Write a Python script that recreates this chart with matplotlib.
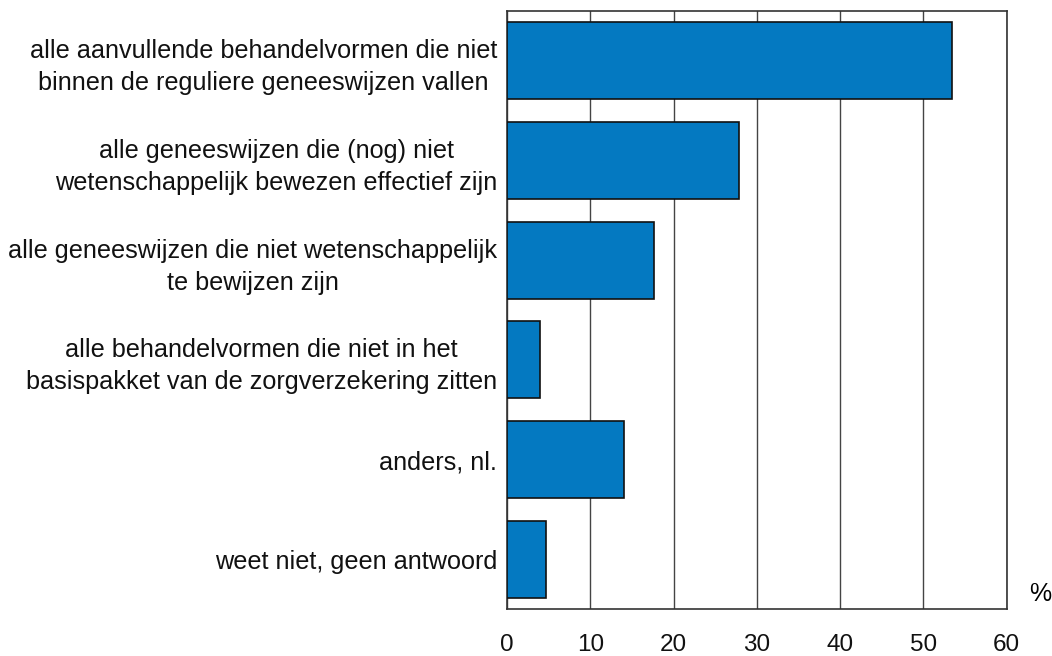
import numpy as np
import matplotlib
matplotlib.use("Agg")
import matplotlib.pyplot as plt

plt.rcParams['font.family'] = ['Liberation Sans', 'DejaVu Sans']

# categories (top to bottom) and percentages
categories = [
    "alle aanvullende behandelvormen die niet\nbinnen de reguliere geneeswijzen vallen",
    "alle geneeswijzen die (nog) niet\nwetenschappelijk bewezen effectief zijn",
    "alle geneeswijzen die niet wetenschappelijk\nte bewijzen zijn",
    "alle behandelvormen die niet in het\nbasispakket van de zorgverzekering zitten",
    "anders, nl.",
    "weet niet, geen antwoord",
]
values = [53.4, 27.8, 17.6, 4.0, 14.1, 4.7]
x_ticks = [0, 10, 20, 30, 40, 50, 60]

fig = plt.figure(figsize=(10.52, 6.56), dpi=100)
ax = fig.add_axes([0.482, 0.0716, 0.475, 0.9116])

y = np.arange(len(categories))
ax.barh(y, values, height=0.77, color='#0479C1', edgecolor='#111111',
        linewidth=1.2, zorder=3)

ax.set_xlim(0, 60)
ax.set_ylim(len(categories) - 0.5, -0.5)
ax.set_xticks(x_ticks)
ax.set_xticklabels([str(t) for t in x_ticks], fontsize=17.5)
ax.set_yticks(y)
ax.set_yticklabels(categories, fontsize=18.2, multialignment='center',
                   linespacing=1.42)
ax.tick_params(axis='both', length=0, colors='#111111')
ax.tick_params(axis='x', pad=18)
ax.tick_params(axis='y', pad=7)

ax.grid(axis='x', color='#444444', linewidth=1.0, zorder=0)
for s in ax.spines.values():
    s.set_color('#333333')
    s.set_linewidth(1.2)

ax.text(1.066, 0.025, '%', transform=ax.transAxes, fontsize=18,
        ha='center', va='center')

fig.savefig('out.png', dpi=100)
